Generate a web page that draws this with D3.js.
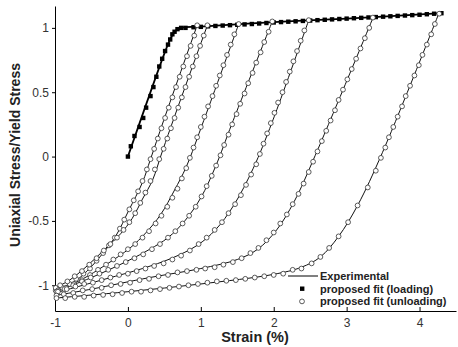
<!DOCTYPE html>
<html>
<head>
<meta charset="utf-8">
<script src="https://cdn.jsdelivr.net/npm/d3@7"></script>
<style>
  body { margin: 0; background: #fff; }
  text { font-family: "Liberation Sans", Arial, sans-serif; }
</style>
</head>
<body>
<svg width="458" height="347"></svg>
<script>
// loading fit (squares)
var loadStrain = [0, 0.04, 0.09, 0.16, 0.21, 0.25, 0.31, 0.35, 0.39, 0.43, 0.47, 0.51, 0.55, 0.58, 0.61, 0.64, 0.68, 0.73, 0.79,
  0.9, 1.0, 1.1, 1.2, 1.3, 1.4, 1.5, 1.6, 1.7, 1.8, 1.9, 2.0, 2.1, 2.2, 2.3, 2.4, 2.5, 2.6, 2.7, 2.8, 2.9,
  3.0, 3.1, 3.2, 3.3, 3.4, 3.5, 3.6, 3.7, 3.8, 3.9, 4.0, 4.1, 4.2, 4.3];
var loadStress = [0, 0.08, 0.16, 0.23, 0.3, 0.38, 0.47, 0.54, 0.62, 0.7, 0.76, 0.82, 0.87, 0.91, 0.95, 0.97, 0.99, 1.0, 1.0,
  1.005, 1.008, 1.012, 1.015, 1.018, 1.021, 1.024, 1.027, 1.03, 1.034, 1.038, 1.042, 1.045, 1.048, 1.051, 1.054, 1.057, 1.06, 1.063, 1.066, 1.069,
  1.072, 1.075, 1.078, 1.081, 1.084, 1.087, 1.09, 1.093, 1.096, 1.099, 1.102, 1.106, 1.11, 1.114];

// experimental loading curve
var expLoad = [[0, 0], [0.5, 0.8], [0.58, 0.91], [0.64, 0.97], [0.72, 1.0], [1.0, 1.01], [2.0, 1.045], [3.0, 1.072], [4.3, 1.115]];

// experimental unloading curves
var exp1 = [[0.95, 1.02], [0.49, 0.28], [0.31, -0.02], [0.2, -0.2], [0.01, -0.42], [-0.17, -0.62], [-0.4, -0.79], [-0.56, -0.89], [-0.68, -0.95], [-0.83, -1.0], [-1, -1.03]];
var exp2 = [[1.09, 1.02], [0.62, 0.28], [0.46, 0.02], [0.34, -0.18], [0.2, -0.33], [0.06, -0.48], [-0.1, -0.6], [-0.3, -0.71], [-0.54, -0.84], [-0.8, -0.96], [-1, -1.02]];
var exp3 = [[1.52, 1.03], [1.04, 0.28], [0.8, -0.08], [0.64, -0.26], [0.45, -0.45], [0.25, -0.59], [0.03, -0.71], [-0.3, -0.84], [-0.65, -0.96], [-1, -1.05]];
var exp4 = [[1.98, 1.05], [1.43, 0.26], [1.2, -0.08], [1.0, -0.32], [0.78, -0.5], [0.55, -0.63], [0.3, -0.72], [0.0, -0.81], [-0.5, -0.94], [-1, -1.05]];
var exp5 = [[2.48, 1.06], [1.98, 0.27], [1.72, -0.09], [1.45, -0.38], [1.2, -0.57], [0.95, -0.69], [0.6, -0.79], [0.2, -0.87], [-0.3, -0.95], [-1, -1.06]];
var exp6 = [[3.37, 1.09], [2.57, 0.01], [2.28, -0.35], [2.04, -0.57], [1.78, -0.72], [1.5, -0.8], [1.0, -0.87], [0.3, -0.94], [-0.5, -1.03], [-1, -1.08]];
var exp7 = [[4.27, 1.12], [3.49, 0.03], [3.15, -0.38], [2.89, -0.62], [2.64, -0.78], [2.38, -0.86], [2.0, -0.915], [1.0, -0.99], [0, -1.05], [-1, -1.1]];

// unloading fits (circles)
var fit1 = [[0.95, 1.02], [0.91, 0.94], [0.86, 0.86], [0.81, 0.78], [0.76, 0.7], [0.71, 0.62], [0.66, 0.54], [0.61, 0.46], [0.56, 0.38], [0.51, 0.3],
  [0.46, 0.22], [0.41, 0.14], [0.36, 0.06], [0.31, -0.02], [0.26, -0.1], [0.2, -0.19], [0.14, -0.27], [0.08, -0.34], [0.02, -0.41], [-0.05, -0.49],
  [-0.11, -0.56], [-0.18, -0.63], [-0.26, -0.69], [-0.34, -0.75], [-0.43, -0.81], [-0.52, -0.87], [-0.61, -0.91], [-0.71, -0.95], [-0.8, -0.99], [-0.9, -1.02], [-0.99, -1.04]];
var fit2 = [[1.09, 1.02], [1.04, 0.94], [0.99, 0.86], [0.94, 0.78], [0.89, 0.7], [0.84, 0.62], [0.79, 0.54], [0.74, 0.46], [0.69, 0.38], [0.64, 0.3],
  [0.59, 0.22], [0.54, 0.14], [0.49, 0.06], [0.43, -0.02], [0.37, -0.1], [0.31, -0.19], [0.24, -0.28], [0.17, -0.36], [0.1, -0.44], [0.02, -0.51],
  [-0.06, -0.57], [-0.15, -0.63], [-0.24, -0.68], [-0.33, -0.73], [-0.43, -0.79], [-0.53, -0.84], [-0.63, -0.89], [-0.73, -0.93], [-0.83, -0.97], [-0.93, -1.0], [-0.99, -1.02]];
var fit3 = [[1.52, 1.03], [1.46, 0.95], [1.41, 0.87], [1.36, 0.79], [1.31, 0.71], [1.26, 0.63], [1.21, 0.55], [1.16, 0.47], [1.1, 0.39], [1.05, 0.31],
  [1.0, 0.23], [0.95, 0.15], [0.9, 0.07], [0.85, -0.01], [0.8, -0.09], [0.74, -0.17], [0.68, -0.25], [0.61, -0.32], [0.54, -0.39], [0.46, -0.46],
  [0.38, -0.52], [0.29, -0.58], [0.2, -0.63], [0.1, -0.68], [0.0, -0.72], [-0.1, -0.76], [-0.2, -0.8], [-0.3, -0.84], [-0.41, -0.88], [-0.52, -0.92],
  [-0.63, -0.96], [-0.74, -0.99], [-0.85, -1.02], [-0.96, -1.04]];
var fit4 = [[1.98, 1.05], [1.93, 0.97], [1.87, 0.89], [1.82, 0.81], [1.76, 0.73], [1.71, 0.65], [1.65, 0.57], [1.6, 0.49], [1.54, 0.41], [1.49, 0.33],
  [1.43, 0.25], [1.38, 0.17], [1.32, 0.09], [1.27, 0.01], [1.21, -0.07], [1.15, -0.15], [1.08, -0.23], [1.01, -0.31], [0.93, -0.39], [0.84, -0.46],
  [0.75, -0.52], [0.65, -0.58], [0.55, -0.63], [0.44, -0.68], [0.33, -0.72], [0.21, -0.76], [0.09, -0.79], [-0.03, -0.82], [-0.15, -0.85], [-0.27, -0.88],
  [-0.39, -0.91], [-0.51, -0.94], [-0.63, -0.97], [-0.75, -1.0], [-0.87, -1.03], [-0.98, -1.05]];
var fit5 = [[2.48, 1.06], [2.42, 0.98], [2.37, 0.9], [2.32, 0.82], [2.27, 0.74], [2.22, 0.66], [2.17, 0.58], [2.12, 0.5], [2.06, 0.42], [2.01, 0.34],
  [1.96, 0.26], [1.91, 0.18], [1.86, 0.1], [1.81, 0.02], [1.76, -0.06], [1.69, -0.14], [1.62, -0.22], [1.55, -0.3], [1.47, -0.37], [1.38, -0.44],
  [1.29, -0.51], [1.19, -0.57], [1.08, -0.63], [0.97, -0.68], [0.85, -0.73], [0.73, -0.77], [0.61, -0.8], [0.49, -0.83], [0.36, -0.85], [0.24, -0.87],
  [0.12, -0.89], [0.0, -0.91], [-0.12, -0.92], [-0.24, -0.94], [-0.36, -0.96], [-0.48, -0.98], [-0.6, -0.99], [-0.72, -1.01], [-0.84, -1.03], [-0.96, -1.05]];
var fit6 = [[3.36, 1.08], [3.31, 1.0], [3.25, 0.92], [3.19, 0.84], [3.13, 0.76], [3.07, 0.68], [3.01, 0.6], [2.95, 0.52], [2.89, 0.44], [2.84, 0.36],
  [2.78, 0.28], [2.72, 0.2], [2.66, 0.12], [2.6, 0.04], [2.54, -0.04], [2.48, -0.12], [2.41, -0.21], [2.34, -0.29], [2.26, -0.37], [2.18, -0.45],
  [2.09, -0.52], [2.0, -0.59], [1.9, -0.65], [1.79, -0.71], [1.68, -0.75], [1.56, -0.79], [1.44, -0.82], [1.31, -0.84], [1.19, -0.86], [1.06, -0.87],
  [0.94, -0.88], [0.81, -0.89], [0.68, -0.9], [0.55, -0.92], [0.42, -0.93], [0.29, -0.95], [0.16, -0.96], [0.03, -0.98], [-0.1, -0.99], [-0.23, -1.0],
  [-0.36, -1.02], [-0.49, -1.03], [-0.62, -1.04], [-0.75, -1.06], [-0.88, -1.07], [-0.98, -1.08]];
var fit7 = [[4.27, 1.11], [4.21, 1.03], [4.16, 0.95], [4.1, 0.87], [4.04, 0.79], [3.99, 0.71], [3.93, 0.63], [3.87, 0.55], [3.81, 0.47], [3.76, 0.39],
  [3.7, 0.31], [3.64, 0.23], [3.58, 0.15], [3.53, 0.07], [3.47, -0.01], [3.4, -0.11], [3.29, -0.24], [3.15, -0.38], [3.02, -0.51], [2.89, -0.62],
  [2.76, -0.71], [2.64, -0.78], [2.52, -0.83], [2.38, -0.87], [2.26, -0.88], [2.13, -0.91], [2.0, -0.92], [1.87, -0.93], [1.74, -0.94], [1.61, -0.95],
  [1.48, -0.96], [1.35, -0.965], [1.22, -0.97], [1.09, -0.98], [0.96, -0.99], [0.83, -1.0], [0.7, -1.01], [0.57, -1.02], [0.44, -1.03], [0.31, -1.04],
  [0.18, -1.05], [0.05, -1.05], [-0.08, -1.06], [-0.21, -1.07], [-0.34, -1.075], [-0.47, -1.08], [-0.6, -1.09], [-0.73, -1.09], [-0.86, -1.1], [-0.98, -1.1]];

var xTicks = [-1, 0, 1, 2, 3, 4];
var yTicks = [-1, -0.5, 0, 0.5, 1];
var legendLabels = ["Experimental", "proposed fit (loading)", "proposed fit (unloading)"];

var svg = d3.select("svg");

var x = d3.scaleLinear().domain([-1, 4.5]).range([55, 456]);
var y = d3.scaleLinear().domain([-1.2, 1.17]).range([311, 6]);

var line = d3.line()
    .x(function(d) { return x(d[0]); })
    .y(function(d) { return y(d[1]); })
    .curve(d3.curveCatmullRom);

var fmt = function(d) { return String(d); };

var expCurves = [exp1, exp2, exp3, exp4, exp5, exp6, exp7];
var fitCurves = [fit1, fit2, fit3, fit4, fit5, fit6, fit7];

// axes
var xAxis = svg.append("g")
    .attr("transform", "translate(0,311)")
    .call(d3.axisBottom(x).tickValues(xTicks).tickFormat(fmt).tickSizeInner(-4).tickSizeOuter(0).tickPadding(7));
var yAxis = svg.append("g")
    .attr("transform", "translate(55,0)")
    .call(d3.axisLeft(y).tickValues(yTicks).tickFormat(fmt).tickSizeInner(3).tickSizeOuter(0).tickPadding(3));

[xAxis, yAxis].forEach(function(a) {
  a.selectAll("text").attr("font-size", 12).attr("fill", "#333").attr("font-family", "Liberation Sans, Arial, sans-serif");
  a.select(".domain").attr("stroke", "#000");
  a.selectAll(".tick line").attr("stroke", "#000");
});

// experimental lines
svg.append("path")
    .attr("d", line(expLoad))
    .attr("fill", "none")
    .attr("stroke", "#000")
    .attr("stroke-width", 1.8);

expCurves.forEach(function(c) {
  svg.append("path")
      .attr("d", line(c))
      .attr("fill", "none")
      .attr("stroke", "#111")
      .attr("stroke-width", 1);
});

// loading fit squares
svg.append("g").selectAll("rect")
    .data(loadStrain)
  .enter().append("rect")
    .attr("x", function(d) { return x(d) - 2.2; })
    .attr("y", function(d, i) { return y(loadStress[i]) - 2.2; })
    .attr("width", 4.4)
    .attr("height", 4.4)
    .attr("fill", "#000");

// unloading fit circles
fitCurves.forEach(function(c) {
  svg.append("g").selectAll("circle")
      .data(c)
    .enter().append("circle")
      .attr("cx", function(d) { return x(d[0]); })
      .attr("cy", function(d) { return y(d[1]); })
      .attr("r", 2.4)
      .attr("fill", "#fff")
      .attr("stroke", "#333")
      .attr("stroke-width", 0.8);
});

// axis titles
svg.append("text")
    .attr("x", 255)
    .attr("y", 342)
    .attr("text-anchor", "middle")
    .attr("font-size", 14.5)
    .attr("font-weight", "bold")
    .attr("fill", "#222")
    .text("Strain (%)");

svg.append("text")
    .attr("transform", "translate(20,155) rotate(-90)")
    .attr("text-anchor", "middle")
    .attr("font-size", 14)
    .attr("font-weight", "bold")
    .attr("fill", "#222")
    .text("Uniaxial Stress/Yield Stress");

// legend
var leg = svg.append("g").attr("transform", "translate(288,276)");
leg.append("line").attr("x1", 0).attr("x2", 30).attr("y1", 0).attr("y2", 0).attr("stroke", "#000");
leg.append("rect").attr("x", 12).attr("y", 10.5).attr("width", 4.4).attr("height", 4.4).attr("fill", "#000");
leg.append("circle").attr("cx", 14).attr("cy", 25.4).attr("r", 2.4).attr("fill", "#fff").attr("stroke", "#333").attr("stroke-width", 0.8);
leg.selectAll("text.lab")
    .data(legendLabels)
  .enter().append("text")
    .attr("class", "lab")
    .attr("x", 32)
    .attr("y", function(d, i) { return 4 + i * 12.7; })
    .attr("font-size", 11)
    .attr("font-weight", "bold")
    .attr("fill", "#222")
    .text(function(d) { return d; });
</script>
</body>
</html>
